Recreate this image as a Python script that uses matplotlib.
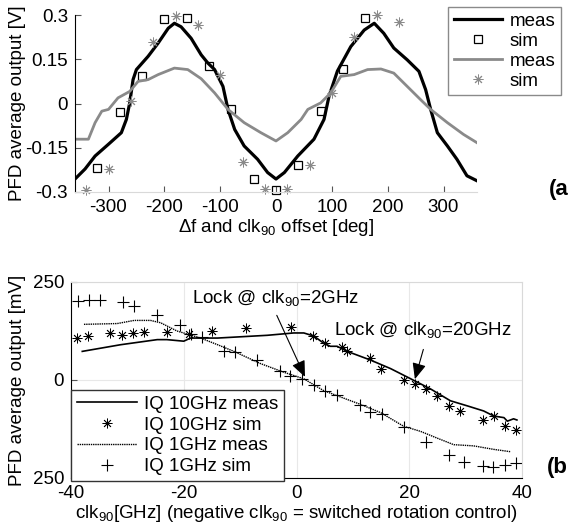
import matplotlib

matplotlib.use("Agg")
import matplotlib.pyplot as plt

# ---- panel (a): PFD output vs offset angle ----
deg_meas_k = [-360, -342, -324, -300, -277, -268, -262, -256, -250, -229, -211, -193, -182,
              -170, -152, -134, -122, -110, -95, -86, -74, -57, -33, -15, 0, 15, 39, 68,
              86, 95, 110, 134, 158, 176, 193, 211, 235, 256, 268, 277, 289, 307, 324,
              342, 360]
v_meas_k = [-0.256, -0.222, -0.178, -0.138, -0.099, -0.054, 0.002, 0.081, 0.115, 0.16,
            0.205, 0.255, 0.272, 0.26, 0.221, 0.165, 0.137, 0.115, 0.058, -0.02, -0.088,
            -0.144, -0.189, -0.234, -0.256, -0.234, -0.178, -0.121, -0.054, 0.025, 0.11,
            0.193, 0.249, 0.272, 0.238, 0.188, 0.148, 0.109, 0.047, -0.02, -0.099, -0.144,
            -0.189, -0.245, -0.262]

deg_meas_g = [-360, -336, -324, -312, -300, -283, -262, -247, -229, -211, -182, -158, -134,
              -110, -86, -57, -27, 0, 21, 45, 57, 80, 98, 116, 140, 164, 188, 211, 235,
              259, 277, 307, 336, 360]
v_meas_g = [-0.121, -0.121, -0.065, -0.026, -0.02, 0.019, 0.041, 0.075, 0.081, 0.098, 0.12,
            0.115, 0.084, 0.036, -0.02, -0.065, -0.099, -0.127, -0.099, -0.054, -0.02,
            0.002, 0.036, 0.092, 0.098, 0.115, 0.117, 0.103, 0.058, 0.013, -0.02, -0.065,
            -0.105, -0.133]

deg_sim_sq = [-320, -280, -240, -200, -160, -120, -80, -40, 0, 40, 80, 120, 160]
v_sim_sq = [-0.22, -0.03, 0.094, 0.287, 0.29, 0.128, -0.018, -0.256, -0.293, -0.207,
            -0.024, 0.117, 0.29]

deg_sim_st = [-340, -300, -260, -220, -180, -140, -100, -60, -20, 20, 60, 100, 140, 180, 220]
v_sim_st = [-0.293, -0.223, 0.008, 0.21, 0.298, 0.266, 0.098, -0.197, -0.291, -0.291,
            -0.208, 0.036, 0.224, 0.3, 0.275]

# ---- panel (b): PFD output vs clk90 frequency ----
f_10g_meas = [-38, -31.2, -24.7, -23, -20, -18.8, -14, -5.2, -0.5, 1.3, 3.1, 4.8, 6, 7.2, 9,
              13.1, 16.7, 20.2, 23.8, 27.3, 30.3, 33.2, 35, 36.8, 37.4, 38.5, 39.1]
mv_10g_meas = [73, 90, 103, 103, 99, 107, 107, 114, 120, 120, 112, 94, 86, 86, 73, 51, 29,
               3.5, -23, -53, -66, -79, -92, -96, -105, -99, -102]

f_10g_sim = [-39, -37, -33, -31, -29, -27, -23, -19, -15, -9, -1, 3, 5, 8, 9, 13, 15, 19,
             21, 23, 25, 27, 29, 33, 35, 37, 39]
mv_10g_sim = [106, 112, 120, 116, 120, 123, 123, 118, 126, 132, 135, 113, 94, 83, 75, 55,
              29, -1, -10, -23, -40, -66, -79, -102, -92, -118, -128]

f_1g_meas = [-37.7, -31.8, -28.8, -25.9, -24.1, -21.2, -17, -14, -11.1, -6.4, -2.5, 1.3, 4.8,
             7.2, 11.3, 14.9, 19, 22, 24.9, 27.9, 31.4, 35, 38]
mv_1g_meas = [142, 144, 152, 152, 146, 125, 107, 90, 73, 42, 21, 3, -27, -40, -62, -83,
              -118, -131, -148, -165, -168, -177, -183]

f_1g_sim = [-38.7, -36.8, -34.9, -30.8, -28.8, -24.8, -20.7, -18.8, -16.8, -12.9, -10.9, -7,
            -3, -1.1, 1, 3.1, 5, 7.1, 11.2, 13.1, 15.1, 19, 23, 27, 29.7, 33, 34.9, 36.9, 39]
mv_1g_sim = [201, 204, 203, 200, 189, 166, 140, 118, 109, 75, 71, 51, 23, 10, 3, -14, -27,
             -38, -63, -81, -88, -120, -157, -191, -209, -220, -222, -217, -213]

plt.rcParams.update({
    "font.family": ["Liberation Sans", "DejaVu Sans"],
    "font.size": 13.5,
    "mathtext.default": "regular",
    "axes.unicode_minus": False,
})

GRAY = "#8a8a8a"
LIGHT = "#d9d9d9"
ASTER = (8, 2, 0)  # matlab style asterisk

fig = plt.figure(figsize=(5.76, 5.31), dpi=100)
ax1 = fig.add_axes([75 / 576, 1 - 192 / 531, 402 / 576, 177 / 531])
ax2 = fig.add_axes([71 / 576, 1 - 478 / 531, 451 / 576, 196 / 531])

# panel a
ax1.plot(deg_meas_k, v_meas_k, color="black", lw=2.3, label="meas")
ax1.plot(deg_sim_sq, v_sim_sq, ls="none", marker="s", ms=6, mfc="none", mec="black",
         mew=0.9, label="sim", clip_on=False)
ax1.plot(deg_meas_g, v_meas_g, color=GRAY, lw=2.0, label="meas")
ax1.plot(deg_sim_st, v_sim_st, ls="none", marker=ASTER, ms=7, mec=GRAY, mew=0.7,
         label="sim", clip_on=False)

ax1.set_xlim(-360, 360)
ax1.set_ylim(-0.3, 0.3)
ax1.set_xticks([-300, -200, -100, 0, 100, 200, 300])
ax1.set_yticks([0.3, 0.15, 0, -0.15, -0.3])
ax1.set_yticklabels(["0.3", "0.15", "0", "-0.15", "-0.3"])
for s in ("top", "right"):
    ax1.spines[s].set_visible(False)
ax1.spines["bottom"].set_color(LIGHT)
ax1.spines["left"].set_color("black")
ax1.tick_params(direction="in", length=4, color="#555555", pad=5)
ax1.set_xlabel("Δf and clk$_{90}$ offset [deg]", labelpad=1)
ax1.set_ylabel("PFD average output [V]")
# label anchor is the right edge of the rotated text
ax1.yaxis.set_label_coords(-0.122, 0.5)

leg1 = ax1.legend(loc="upper left", bbox_to_anchor=(448 / 576, 1 - 7 / 531),
                  bbox_transform=fig.transFigure, fancybox=False, framealpha=1,
                  edgecolor=GRAY, handlelength=2.6, borderaxespad=0,
                  labelspacing=0.15, handletextpad=0.4, borderpad=0.3)
leg1.get_frame().set_linewidth(1.0)

# panel b
ax2.plot(f_10g_meas, mv_10g_meas, color="black", lw=1.2, label="IQ 10GHz meas")
ax2.plot(f_10g_sim, mv_10g_sim, ls="none", marker=ASTER, ms=7, mec="black", mew=0.6,
         label="IQ 10GHz sim")
ax2.plot(f_1g_meas, mv_1g_meas, color="black", lw=1.0, ls=(0, (1, 0.6)),
         label="IQ 1GHz meas")
ax2.plot(f_1g_sim, mv_1g_sim, ls="none", marker="+", ms=8, mec="black", mew=0.8,
         label="IQ 1GHz sim")

ax2.set_xlim(-40, 40)
ax2.set_ylim(-250, 250)
ax2.set_xticks([-40, -20, 0, 20, 40])
ax2.set_yticks([250, 0, -250])
ax2.set_yticklabels(["250", "0", "250"])
ax2.grid(True, color="#e8e8e8", lw=0.8)
ax2.set_axisbelow(True)
ax2.spines["top"].set_color(LIGHT)
ax2.spines["right"].set_color(LIGHT)
ax2.tick_params(axis="x", length=0, pad=5)
ax2.tick_params(axis="y", direction="in", length=4, color="#555555", pad=5)
ax2.set_xlabel("clk$_{90}$[GHz] (negative clk$_{90}$ = switched rotation control)",
               labelpad=1)
ax2.set_ylabel("PFD average output [mV]")
ax2.yaxis.set_label_coords(-0.1, 0.5)

ax2.text(-18.6, 210, "Lock @ clk$_{90}$=2GHz", va="center", ha="left")
ax2.annotate("", xy=(1.5, 8), xytext=(-3.5, 165),
             arrowprops=dict(arrowstyle="-|>,head_length=0.7,head_width=0.3",
                             color="black", lw=0.8, mutation_scale=14,
                             shrinkA=0, shrinkB=0))
ax2.text(6.6, 128, "Lock @ clk$_{90}$=20GHz", va="center", ha="left")
ax2.annotate("", xy=(21, 2), xytext=(22.5, 78),
             arrowprops=dict(arrowstyle="-|>,head_length=0.7,head_width=0.3",
                             color="black", lw=0.8, mutation_scale=14,
                             shrinkA=0, shrinkB=0))

leg2 = ax2.legend(loc="lower left", bbox_to_anchor=(71 / 576, 1 - 481 / 531),
                  bbox_transform=fig.transFigure, fancybox=False, framealpha=1,
                  edgecolor="#333333", handlelength=3.2, borderaxespad=0,
                  labelspacing=0.2, handletextpad=0.4, borderpad=0.3)
leg2.get_frame().set_linewidth(1.0)

fig.text(549 / 576, 1 - 190 / 531, "(a", fontsize=16, fontweight="bold", va="center")
fig.text(547 / 576, 1 - 468 / 531, "(b", fontsize=16, fontweight="bold", va="center")

fig.savefig("out.png", dpi=100)
